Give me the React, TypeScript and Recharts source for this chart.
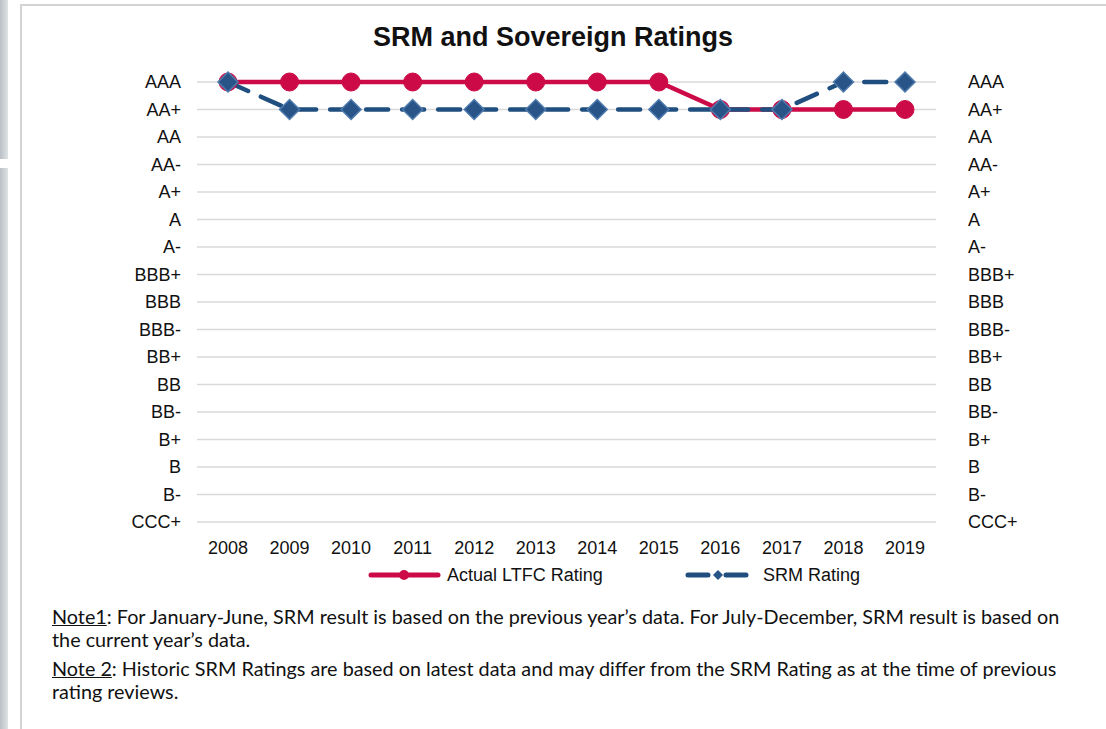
import React from 'react'
import { ComposedChart, Line, XAxis, YAxis, CartesianGrid } from 'recharts'

const years = ['2008', '2009', '2010', '2011', '2012', '2013', '2014', '2015', '2016', '2017', '2018', '2019']

// lowest to highest
const ratingScale = ['CCC+', 'B-', 'B', 'B+', 'BB-', 'BB', 'BB+', 'BBB-', 'BBB', 'BBB+', 'A-', 'A', 'A+', 'AA-', 'AA', 'AA+', 'AAA']

const actualLtfc = ['AAA', 'AAA', 'AAA', 'AAA', 'AAA', 'AAA', 'AAA', 'AAA', 'AA+', 'AA+', 'AA+', 'AA+']
const srmRating = ['AAA', 'AA+', 'AA+', 'AA+', 'AA+', 'AA+', 'AA+', 'AA+', 'AA+', 'AA+', 'AAA', 'AAA']

const data = years.map((year, i) => ({
  year,
  ltfc: ratingScale.indexOf(actualLtfc[i]),
  srm: ratingScale.indexOf(srmRating[i]),
}))

const ratingTicks = ratingScale.map((_, i) => i)

const RED = '#CC0A47'
const BLUE = '#1F4E7F'
const FONT = '"Liberation Sans", Arial, sans-serif'

const Diamond = (props: any) => {
  const { cx, cy, index } = props
  if (cx == null || cy == null) return null
  const s = 10
  return (
    <path
      key={`d-${index}`}
      d={`M${cx},${cy - s}L${cx + s},${cy}L${cx},${cy + s}L${cx - s},${cy}Z`}
      fill="#285488"
      stroke="#4F7BAE"
      strokeWidth={1.5}
    />
  )
}

const ChartLegend = () => (
  <svg width={1106} height={30} style={{ position: 'absolute', left: 0, top: 560 }}>
    <line x1={371} x2={438} y1={15} y2={15} stroke={RED} strokeWidth={5} strokeLinecap="round" />
    <circle cx={404} cy={15} r={5} fill={RED} />
    <text x={447} y={15} dy="0.35em" fontSize={18} fontFamily={FONT} fill="#111">
      Actual LTFC Rating
    </text>
    <line x1={688} x2={748} y1={15} y2={15} stroke={BLUE} strokeWidth={5} strokeLinecap="round" strokeDasharray="20 18" />
    <path d="M718,10L723,15L718,20L713,15Z" fill="#285488" />
    <text x={763} y={15} dy="0.35em" fontSize={18} fontFamily={FONT} fill="#111">
      SRM Rating
    </text>
  </svg>
)

export default function App() {
  return (
    <div style={{ position: 'absolute', left: 0, top: 0, width: 1106, height: 729, background: '#fff', overflow: 'hidden' }}>
      {/* side strip and frame */}
      <div style={{ position: 'absolute', left: 0, top: 0, width: 8, height: 729, background: 'linear-gradient(to right, #b9c0c5, #dfe3e6)' }} />
      <div style={{ position: 'absolute', left: 0, top: 159, width: 8, height: 9, background: '#fff' }} />
      <div style={{ position: 'absolute', left: 20, top: 4, width: 1086, height: 725, borderTop: '2px solid #d3d3d3', borderLeft: '2px solid #d3d3d3' }} />

      <svg width={1106} height={60} style={{ position: 'absolute', left: 0, top: 0 }}>
        <text x={553} y={46} textAnchor="middle" fontSize={27} fontWeight="bold" fontFamily={FONT} fill="#111">
          SRM and Sovereign Ratings
        </text>
      </svg>

      <div style={{ position: 'absolute', left: 0, top: 0 }}>
        <ComposedChart width={1106} height={729} data={data} margin={{ top: 82, right: 0, left: 0, bottom: 177 }}>
          <CartesianGrid yAxisId="left" vertical={false} stroke="#d9d9d9" strokeWidth={1.5} />
          <XAxis
            dataKey="year"
            axisLine={false}
            tickLine={false}
            tickMargin={13}
            height={30}
            interval={0}
            padding={{ left: 31, right: 31 }}
            tick={{ fontSize: 18, fontFamily: FONT, fill: '#111' }}
          />
          <YAxis
            yAxisId="left"
            type="number"
            domain={[0, 16]}
            ticks={ratingTicks}
            interval={0}
            width={197}
            axisLine={false}
            tickLine={false}
            tickMargin={10}
            tickFormatter={(v: number) => ratingScale[v]}
            tick={{ fontSize: 18, fontFamily: FONT, fill: '#111' }}
          />
          <YAxis
            yAxisId="right"
            orientation="right"
            type="number"
            domain={[0, 16]}
            ticks={ratingTicks}
            interval={0}
            width={170}
            axisLine={false}
            tickLine={false}
            tickMargin={26}
            tickFormatter={(v: number) => ratingScale[v]}
            tick={{ fontSize: 18, fontFamily: FONT, fill: '#111', textAnchor: 'start' }}
          />
          {/* invisible series so the right axis gets drawn */}
          <Line
            yAxisId="right"
            dataKey="srm"
            stroke="none"
            strokeOpacity={0}
            dot={false}
            activeDot={false}
            legendType="none"
            isAnimationActive={false}
          />
          <Line
            yAxisId="left"
            dataKey="ltfc"
            name="Actual LTFC Rating"
            stroke={RED}
            strokeWidth={4.5}
            dot={{ r: 9, fill: RED, stroke: RED, strokeWidth: 1 }}
            isAnimationActive={false}
          />
          <Line
            yAxisId="left"
            dataKey="srm"
            name="SRM Rating"
            stroke={BLUE}
            strokeWidth={4.5}
            strokeDasharray="22 14"
            strokeLinecap="round"
            dot={Diamond}
            isAnimationActive={false}
          />
        </ComposedChart>
      </div>

      <ChartLegend />

      <div style={{ position: 'absolute', left: 52, top: 605, width: 1050, fontFamily: 'Lato, "Open Sans", sans-serif', fontSize: 19.8, lineHeight: '23px', color: '#111' }}>
        <div style={{ whiteSpace: 'nowrap' }}>
          <span style={{ textDecoration: 'underline' }}>Note1</span>: For January-June, SRM result is based on the previous year’s data. For July-December, SRM result is based on
        </div>
        <div style={{ whiteSpace: 'nowrap' }}>the current year’s data.</div>
        <div style={{ whiteSpace: 'nowrap', marginTop: 6 }}>
          <span style={{ textDecoration: 'underline' }}>Note 2</span>: Historic SRM Ratings are based on latest data and may differ from the SRM Rating as at the time of previous
        </div>
        <div style={{ whiteSpace: 'nowrap' }}>rating reviews.</div>
      </div>
    </div>
  )
}
